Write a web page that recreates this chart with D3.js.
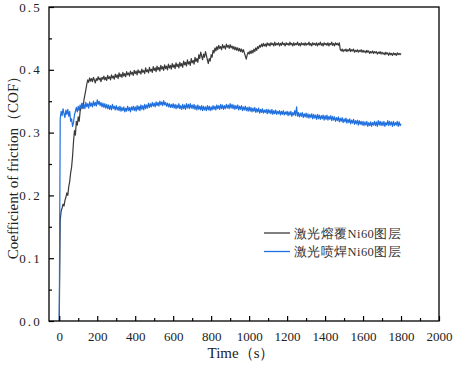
<!DOCTYPE html>
<html><head><meta charset="utf-8">
<script src="https://cdn.jsdelivr.net/npm/d3@7/dist/d3.min.js"></script>
<style>
html,body{margin:0;padding:0;background:#fff;}
svg{display:block;}
svg text{font-family:"Liberation Serif","DejaVu Serif","Times New Roman",Tinos,"Noto Serif",serif;}
</style>
</head><body>
<svg id="chart" width="454" height="366"></svg>
<script>
// Sampling interval of the recorded COF traces (s)
const timeStep = 5;
const seriesNames = ["激光熔覆Ni60图层", "激光喷焊Ni60图层"];
const seriesColors = ["#3a3a3a", "#1f6fde"];
const xTickLabels = [0,200,400,600,800,1000,1200,1400,1600,1800,2000];
const yTickLabels = [0.0,0.1,0.2,0.3,0.4,0.5];

// 激光熔覆Ni60图层 (COF), one row per 100 s
const cladding = [
0.000,0.160,0.175,0.180,0.186,0.183,0.192,0.197,0.204,0.200,0.214,0.222,0.236,0.245,0.262,0.285,0.303,0.296,0.318,0.312,
0.325,0.318,0.334,0.340,0.346,0.338,0.352,0.360,0.368,0.377,0.384,0.380,0.387,0.382,0.386,0.381,0.388,0.384,0.379,0.386,
0.383,0.389,0.384,0.387,0.381,0.388,0.385,0.390,0.384,0.388,0.383,0.391,0.386,0.389,0.384,0.392,0.387,0.390,0.385,0.393,
0.388,0.392,0.386,0.395,0.389,0.393,0.388,0.396,0.390,0.394,0.389,0.397,0.392,0.395,0.390,0.398,0.393,0.396,0.391,0.399,
0.394,0.398,0.392,0.400,0.395,0.398,0.393,0.401,0.396,0.399,0.394,0.403,0.397,0.400,0.395,0.404,0.398,0.401,0.396,0.405,
0.399,0.403,0.397,0.406,0.400,0.404,0.398,0.407,0.401,0.405,0.399,0.408,0.402,0.406,0.400,0.409,0.403,0.407,0.401,0.410,
0.404,0.408,0.402,0.411,0.405,0.409,0.403,0.412,0.406,0.410,0.404,0.414,0.408,0.412,0.406,0.416,0.409,0.413,0.407,0.418,
0.411,0.415,0.409,0.420,0.413,0.418,0.412,0.424,0.418,0.428,0.422,0.416,0.425,0.420,0.429,0.423,0.416,0.410,0.418,0.414,
0.424,0.420,0.431,0.427,0.435,0.430,0.437,0.432,0.439,0.434,0.437,0.432,0.440,0.435,0.438,0.433,0.441,0.436,0.439,0.434,
0.440,0.435,0.438,0.433,0.437,0.432,0.436,0.431,0.435,0.430,0.434,0.429,0.433,0.428,0.432,0.427,0.422,0.417,0.424,0.428,
0.425,0.430,0.426,0.431,0.427,0.433,0.429,0.435,0.431,0.437,0.434,0.439,0.436,0.441,0.437,0.442,0.438,0.441,0.437,0.443,
0.439,0.442,0.438,0.443,0.440,0.442,0.438,0.444,0.439,0.442,0.440,0.443,0.438,0.442,0.439,0.444,0.440,0.442,0.438,0.443,
0.440,0.442,0.439,0.444,0.440,0.442,0.438,0.443,0.439,0.442,0.440,0.444,0.439,0.442,0.438,0.443,0.440,0.442,0.439,0.443,
0.439,0.442,0.440,0.444,0.439,0.442,0.438,0.443,0.440,0.442,0.439,0.443,0.438,0.442,0.440,0.444,0.439,0.442,0.438,0.443,
0.440,0.442,0.439,0.443,0.438,0.442,0.440,0.444,0.439,0.442,0.438,0.443,0.440,0.442,0.439,0.443,0.432,0.430,0.433,0.429,
0.432,0.430,0.433,0.429,0.432,0.430,0.434,0.429,0.432,0.430,0.433,0.428,0.431,0.429,0.432,0.428,0.431,0.429,0.432,0.428,
0.431,0.428,0.430,0.427,0.431,0.428,0.430,0.426,0.429,0.427,0.430,0.426,0.429,0.427,0.429,0.425,0.428,0.426,0.429,0.425,
0.428,0.425,0.427,0.424,0.428,0.425,0.427,0.423,0.427,0.424,0.426,0.423,0.427,0.424,0.426,0.423,0.427,0.424,0.426,0.424,
0.426
];

// 激光喷焊Ni60图层 (COF), one row per 100 s
const spraywelding = [
0.000,0.322,0.334,0.327,0.338,0.330,0.324,0.336,0.329,0.337,0.326,0.334,0.318,0.322,0.310,0.316,0.328,0.334,0.340,0.333,
0.342,0.335,0.344,0.338,0.347,0.340,0.345,0.338,0.348,0.341,0.346,0.339,0.349,0.342,0.347,0.341,0.350,0.343,0.348,0.342,
0.352,0.345,0.350,0.343,0.348,0.341,0.347,0.340,0.346,0.339,0.345,0.338,0.344,0.337,0.343,0.336,0.345,0.338,0.342,0.336,
0.343,0.336,0.341,0.335,0.342,0.334,0.340,0.335,0.341,0.333,0.339,0.334,0.342,0.335,0.340,0.333,0.341,0.336,0.342,0.335,
0.341,0.334,0.343,0.336,0.342,0.335,0.344,0.337,0.343,0.336,0.345,0.338,0.344,0.339,0.347,0.340,0.346,0.341,0.348,0.342,
0.347,0.341,0.349,0.343,0.348,0.342,0.350,0.344,0.349,0.343,0.351,0.344,0.348,0.342,0.347,0.341,0.346,0.340,0.345,0.340,
0.346,0.339,0.345,0.338,0.344,0.339,0.346,0.338,0.343,0.337,0.345,0.338,0.344,0.337,0.346,0.339,0.345,0.338,0.346,0.339,
0.344,0.338,0.345,0.337,0.343,0.336,0.344,0.337,0.342,0.336,0.343,0.335,0.342,0.336,0.341,0.335,0.343,0.336,0.342,0.335,
0.341,0.336,0.343,0.337,0.342,0.336,0.344,0.338,0.343,0.337,0.345,0.338,0.344,0.337,0.343,0.338,0.345,0.339,0.344,0.338,
0.346,0.339,0.345,0.338,0.344,0.337,0.343,0.338,0.344,0.336,0.342,0.337,0.343,0.335,0.341,0.336,0.342,0.335,0.340,0.334,
0.341,0.334,0.340,0.333,0.339,0.334,0.340,0.332,0.338,0.333,0.339,0.331,0.337,0.332,0.338,0.331,0.336,0.332,0.337,0.330,
0.337,0.331,0.336,0.330,0.337,0.329,0.335,0.330,0.336,0.329,0.334,0.330,0.335,0.328,0.334,0.329,0.335,0.328,0.333,0.329,
0.334,0.327,0.333,0.328,0.334,0.326,0.332,0.328,0.335,0.327,0.341,0.326,0.332,0.325,0.331,0.326,0.332,0.324,0.330,0.325,
0.331,0.324,0.330,0.323,0.329,0.324,0.330,0.322,0.329,0.323,0.328,0.321,0.329,0.322,0.328,0.321,0.327,0.322,0.328,0.320,
0.327,0.321,0.328,0.320,0.326,0.321,0.327,0.319,0.326,0.320,0.325,0.318,0.324,0.319,0.325,0.317,0.323,0.318,0.324,0.316,
0.322,0.317,0.323,0.315,0.321,0.316,0.322,0.314,0.320,0.315,0.321,0.313,0.319,0.314,0.320,0.312,0.319,0.313,0.318,0.312,
0.318,0.311,0.317,0.312,0.318,0.310,0.316,0.311,0.317,0.310,0.316,0.312,0.318,0.311,0.317,0.310,0.319,0.312,0.318,0.311,
0.317,0.311,0.318,0.310,0.316,0.312,0.319,0.311,0.318,0.312,0.317,0.310,0.318,0.311,0.316,0.312,0.318,0.310,0.317,0.311,
0.314
];

const svg = d3.select("#chart");
const L = 49, R = 439, T = 7, B = 321;
const x = d3.scaleLinear().domain([-54, 2000]).range([L, R]);
const y = d3.scaleLinear().domain([0, 0.5]).range([B, T]);

// lines
const line = d3.line().x((d,i)=>x(i*timeStep)).y(d=>y(d));
const g = svg.append("g");
g.append("path").datum(cladding).attr("fill","none").attr("stroke",seriesColors[0]).attr("stroke-width",1.2).attr("stroke-linejoin","round").attr("d",line);
g.append("path").datum(spraywelding).attr("fill","none").attr("stroke",seriesColors[1]).attr("stroke-width",1.2).attr("stroke-linejoin","round").attr("d",line);

// axes (ticks inward)
const xAxis = d3.axisBottom(x).tickValues(xTickLabels).tickSize(-5).tickPadding(11).tickFormat(d3.format("d"));
const xMinor = d3.axisBottom(x).tickValues(d3.range(100, 2000, 200)).tickSize(-3).tickFormat("");
const yAxis = d3.axisLeft(y).tickValues(yTickLabels).tickSize(-5).tickPadding(9).tickFormat(d3.format(".1f"));
const yMinor = d3.axisLeft(y).tickValues([0.05,0.15,0.25,0.35,0.45]).tickSize(-3).tickFormat("");

function style(sel){
  sel.select(".domain").remove();
  sel.selectAll("line").attr("stroke","#000").attr("stroke-width",1.2);
  sel.selectAll("text").attr("font-size",13).attr("fill","#222").attr("font-family",null);
}
svg.append("g").attr("transform",`translate(0,${B})`).call(xAxis).call(style);
svg.append("g").attr("transform",`translate(0,${B})`).call(xMinor).call(style);
const ya = svg.append("g").attr("transform",`translate(${L},0)`).call(yAxis).call(style);
ya.selectAll("text").attr("letter-spacing","2.2px").attr("dx","2");
svg.append("g").attr("transform",`translate(${L},0)`).call(yMinor).call(style);

// frame
svg.append("rect").attr("x",L).attr("y",T).attr("width",R-L).attr("height",B-T)
  .attr("fill","none").attr("stroke","#000").attr("stroke-width",1.3);

// axis titles
svg.append("text").attr("x",241).attr("y",358).attr("text-anchor","middle")
  .attr("font-size",15).attr("fill","#222").text("Time（s）");
svg.append("text").attr("transform",`translate(18,${(T+B)/2}) rotate(-90)`).attr("text-anchor","middle")
  .attr("font-size",15).attr("fill","#222").text("Coefficient of friction（COF）");

// legend
const lg = svg.append("g");
seriesNames.forEach((n,i)=>{
  const yy = 233 + i*18.5;
  lg.append("line").attr("x1",264).attr("x2",290).attr("y1",yy).attr("y2",yy)
    .attr("stroke",seriesColors[i]).attr("stroke-width",1.3);
  lg.append("text").attr("x",294).attr("y",yy+4.5).attr("font-size",12.5)
    .attr("fill","#333").attr("letter-spacing","0.4px").text(n);
});
</script>
</body></html>
